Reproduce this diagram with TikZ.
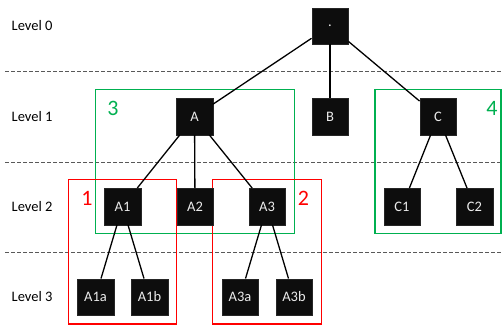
\documentclass[tikz,border=0pt]{standalone}
\usepackage{fontspec}
\setmainfont{Carlito}
\begin{document}
\begin{tikzpicture}[x=1pt,y=-1pt,
  tnode/.style={draw=black!85,fill=black!95,text=white!92!black,minimum size=36.5pt,inner sep=0pt,font=\fontsize{14.5}{16}\selectfont},
  lvl/.style={anchor=west,font=\fontsize{14.5}{16}\selectfont,inner sep=0pt},
  sep/.style={draw=black!65,line width=0.9pt,dash pattern=on 3.5pt off 2.5pt},
  edge/.style={line width=1.3pt,black},
  gbox/.style={draw={rgb,255:red,0;green,176;blue,80},line width=1.5pt},
  rbox/.style={draw=red,line width=1.5pt},
  gnum/.style={text={rgb,255:red,0;green,176;blue,80},font=\fontsize{22}{24}\selectfont,inner sep=0pt},
  rnum/.style={text=red,font=\fontsize{22}{24}\selectfont,inner sep=0pt}]
\useasboundingbox (0,0) rectangle (502,327);
% separators
\coordinate (s0a) at (5,71); \coordinate (s0b) at (502,71);
\coordinate (s1a) at (5,162); \coordinate (s1b) at (502,162);
\coordinate (s2a) at (5,252); \coordinate (s2b) at (502,252);
\draw[sep] (s0a) -- (s0b);
\draw[sep] (s1a) -- (s1b);
\draw[sep] (s2a) -- (s2b);
% level labels
\node[lvl] (L0) at (11.5,26) {Level 0};
\node[lvl] (L1) at (11.5,117) {Level 1};
\node[lvl] (L2) at (11.5,207) {Level 2};
\node[lvl] (L3) at (11.5,297) {Level 3};
% boxes
\draw[gbox] (95.7,89.3) rectangle (294.3,233.3);
\draw[gbox] (375,89.3) rectangle (501,233.3);
\draw[rbox] (68.7,179.3) rectangle (176.7,324);
\draw[rbox] (212.7,179.3) rectangle (321.3,324);
\node[gnum] (n3) at (113,108) {3};
\node[gnum] (n4) at (492,108) {4};
\node[rnum] (n1) at (87,198) {1};
\node[rnum] (n2) at (303.5,198) {2};
% nodes
\node[tnode] (R) at (330,26) {.};
\node[tnode] (A) at (194.5,116.5) {A};
\node[tnode] (B) at (330,116.5) {B};
\node[tnode] (C) at (438,116.5) {C};
\node[tnode] (A1) at (122.5,206.5) {A1};
\node[tnode] (A2) at (195,206.5) {A2};
\node[tnode] (A3) at (267,206.5) {A3};
\node[tnode] (C1) at (402,206.5) {C1};
\node[tnode] (C2) at (474.5,206.5) {C2};
\node[tnode] (A1a) at (95.5,297) {A1a};
\node[tnode] (A1b) at (149.5,297) {A1b};
\node[tnode] (A3a) at (240,297) {A3a};
\node[tnode] (A3b) at (294,297) {A3b};
% edges
\draw[edge] (R) -- (A);
\draw[edge] (R) -- (B);
\draw[edge] (R) -- (C);
\draw[edge] (A) -- (A1);
\draw[edge] (A) -- (A2);
\draw[edge] (A) -- (A3);
\draw[edge] (C) -- (C1);
\draw[edge] (C) -- (C2);
\draw[edge] (A1) -- (A1a);
\draw[edge] (A1) -- (A1b);
\draw[edge] (A3) -- (A3a);
\draw[edge] (A3) -- (A3b);
\end{tikzpicture}
\end{document}
